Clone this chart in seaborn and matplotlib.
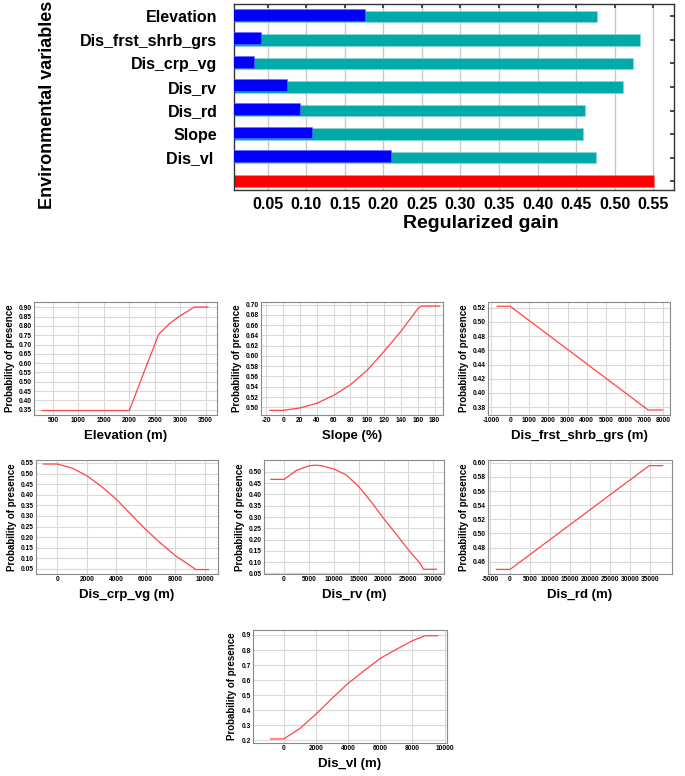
import numpy as np
import pandas as pd
import matplotlib
matplotlib.use("Agg")
import matplotlib.pyplot as plt
import seaborn as sns
from matplotlib.ticker import FormatStrFormatter

# ---------------- data ----------------
variables = ['Elevation', 'Dis_frst_shrb_grs', 'Dis_crp_vg', 'Dis_rv', 'Dis_rd', 'Slope', 'Dis_vl']
var_labels = ['Elevation', 'Dis_frst_shrb_grs', 'Dis_crp_vg', 'Dis_rv', 'Dis_rd', 'Slope', 'Dis_vl ', '']
gain_without = [0.477, 0.533, 0.524, 0.511, 0.462, 0.459, 0.476]
gain_only = [0.176, 0.041, 0.032, 0.075, 0.092, 0.107, 0.210]
gain_all = 0.551
gain_ticks = [0.05, 0.10, 0.15, 0.20, 0.25, 0.30, 0.35, 0.40, 0.45, 0.50, 0.55]

elev_x = [283, 2000, 2300, 2577, 2786, 2983, 3150, 3278, 3547]
elev_y = [0.345, 0.345, 0.560, 0.755, 0.812, 0.852, 0.880, 0.902, 0.902]
elev_ticks_x = [500, 1000, 1500, 2000, 2500, 3000, 3500]
elev_ticks_y = [0.35, 0.40, 0.45, 0.50, 0.55, 0.60, 0.65, 0.70, 0.75, 0.80, 0.85, 0.90]

slope_x = [-16, 0, 20, 40, 60, 80, 100, 120, 140, 160, 164, 186]
slope_y = [0.494, 0.494, 0.4987, 0.5078, 0.5233, 0.544, 0.5725, 0.609, 0.648, 0.692, 0.697, 0.697]
slope_ticks_x = [-20, 0, 20, 40, 60, 80, 100, 120, 140, 160, 180]
slope_ticks_y = [0.50, 0.52, 0.54, 0.56, 0.58, 0.60, 0.62, 0.64, 0.66, 0.68, 0.70]

frst_x = [-687, 0, 7209, 7957]
frst_y = [0.522, 0.522, 0.376, 0.376]
frst_ticks_x = [-1000, 0, 1000, 2000, 3000, 4000, 5000, 6000, 7000, 8000]
frst_ticks_y = [0.38, 0.40, 0.42, 0.44, 0.46, 0.48, 0.50, 0.52]

crp_x = [-948, 0, 1000, 2000, 3000, 4000, 5000, 6000, 7000, 8000, 9000, 9400, 10270]
crp_y = [0.545, 0.545, 0.526, 0.490, 0.439, 0.379, 0.307, 0.236, 0.172, 0.113, 0.066, 0.047, 0.047]
crp_ticks_x = [0, 2000, 4000, 6000, 8000, 10000]
crp_ticks_y = [0.05, 0.10, 0.15, 0.20, 0.25, 0.30, 0.35, 0.40, 0.45, 0.50, 0.55]

rv_x = [-2685, 0, 2500, 5000, 6200, 7500, 10000, 12500, 15000, 17500, 20000, 22500, 25000, 27500, 28000, 30670]
rv_y = [0.467, 0.467, 0.507, 0.527, 0.530, 0.528, 0.513, 0.487, 0.435, 0.368, 0.294, 0.225, 0.154, 0.090, 0.068, 0.068]
rv_ticks_x = [0, 5000, 10000, 15000, 20000, 25000, 30000]
rv_ticks_y = [0.05, 0.10, 0.15, 0.20, 0.25, 0.30, 0.35, 0.40, 0.45, 0.50]

rd_x = [-3422, 0, 34725, 38150]
rd_y = [0.449, 0.449, 0.596, 0.596]
rd_ticks_x = [-5000, 0, 5000, 10000, 15000, 20000, 25000, 30000, 35000]
rd_ticks_y = [0.46, 0.48, 0.50, 0.52, 0.54, 0.56, 0.58, 0.60]

vl_x = [-829, 0, 1000, 2000, 3000, 4000, 5000, 6000, 7000, 8000, 8800, 9600]
vl_y = [0.209, 0.209, 0.278, 0.373, 0.478, 0.578, 0.662, 0.744, 0.804, 0.862, 0.895, 0.895]
vl_ticks_x = [0, 2000, 4000, 6000, 8000, 10000]
vl_ticks_y = [0.2, 0.3, 0.4, 0.5, 0.6, 0.7, 0.8, 0.9]

# ---------------- style ----------------
sns.set_theme(style="white")
plt.rcParams['font.family'] = ['Liberation Sans', 'DejaVu Sans']
plt.rcParams['font.weight'] = 'bold'
plt.rcParams['text.color'] = 'black'
plt.rcParams['axes.labelcolor'] = 'black'
plt.rcParams['xtick.color'] = 'black'
plt.rcParams['ytick.color'] = 'black'

W, H = 685, 776
fig = plt.figure(figsize=(W / 100, H / 100), dpi=100)


def px_axes(x0, x1, y0, y1):
    return fig.add_axes([x0 / W, 1 - y1 / H, (x1 - x0) / W, (y1 - y0) / H])


TEAL = '#00AAA8'
BLUE = '#0000FF'
RED = '#FF0000'

# ---------------- jackknife bar chart ----------------
ax = px_axes(234, 674, 4, 190)
cats = variables + ['All']
df_w = pd.DataFrame({'var': cats, 'gain': gain_without + [gain_all],
                     'kind': ['without'] * 7 + ['all']})
df_o = pd.DataFrame({'var': variables, 'gain': gain_only})
sns.barplot(data=df_w, x='gain', y='var', order=cats, hue='kind',
            palette={'without': TEAL, 'all': RED}, legend=False, saturation=1,
            width=0.48, edgecolor='#8fd8d6', linewidth=0.4, ax=ax, zorder=2)
n_first = len(ax.patches)
sns.barplot(data=df_o, x='gain', y='var', order=cats, color=BLUE, saturation=1,
            width=0.5, edgecolor='#6a6aff', linewidth=0.4, ax=ax, zorder=3)
for p in ax.patches[n_first:]:
    p.set_y(p.get_y() - 0.07)
for p in ax.patches[:n_first]:
    if p.get_facecolor()[0] > 0.9:
        p.set_edgecolor('#ff8080')
ax.set_xlim(0.0062, 0.577)
ax.set_ylim(7.38, -0.53)
ax.set_xticks(gain_ticks)
ax.set_xticklabels([f'{t:.2f}' for t in gain_ticks], fontsize=11.5, fontweight='bold')
ax.set_yticks(range(len(cats)))
ax.set_yticklabels(var_labels, fontsize=11.5, fontweight='bold')
ax.tick_params(axis='y', left=False, right=True, direction='in', length=3, pad=12,
               color='#333333')
ax.tick_params(axis='x', bottom=False, top=True, direction='in', length=3, pad=5,
               color='#333333')
ax.grid(axis='x', color='#c8c8c8', linewidth=1.0, zorder=0)
ax.set_axisbelow(True)
for s in ax.spines.values():
    s.set_color('#333333')
    s.set_linewidth(1.0)
ax.set_xlabel('Regularized gain', fontsize=14, fontweight='bold')
ax.set_ylabel('Environmental variables', fontsize=13, fontweight='bold')
ax.xaxis.set_label_coords(0.56, -0.135)
ax.yaxis.set_label_coords(-0.405, 0.46)

# ---------------- response curves ----------------
panels = [
    ((34, 217, 302, 415), elev_x, elev_y, 'Elevation (m)', (127, 3723), (0.321, 0.929), elev_ticks_x, elev_ticks_y, '%.2f'),
    ((261, 443, 302, 415), slope_x, slope_y, 'Slope (%)', (-26.3, 189.9), (0.485, 0.705), slope_ticks_x, slope_ticks_y, '%.2f'),
    ((488, 670, 302, 415), frst_x, frst_y, 'Dis_frst_shrb_grs (m)', (-1157, 8348), (0.369, 0.528), frst_ticks_x, frst_ticks_y, '%.2f'),
    ((36, 218, 460, 574), crp_x, crp_y, 'Dis_crp_vg (m)', (-1445, 10903), (0.026, 0.564), crp_ticks_x, crp_ticks_y, '%.2f'),
    ((264, 444, 460, 574), rv_x, rv_y, 'Dis_rv (m)', (-4027, 32148), (0.047, 0.553), rv_ticks_x, rv_ticks_y, '%.2f'),
    ((488, 672, 460, 574), rd_x, rd_y, 'Dis_rd (m)', (-5509, 40426), (0.4425, 0.604), rd_ticks_x, rd_ticks_y, '%.2f'),
    ((253, 447, 630, 743), vl_x, vl_y, 'Dis_vl (m)', (-1907, 10155), (0.182, 0.933), vl_ticks_x, vl_ticks_y, '%.1f'),
]

for (x0, x1, y0, y1), xs, ys, xlabel, xlim, ylim, tx, ty, fmt in panels:
    a = px_axes(x0, x1, y0, y1)
    d = pd.DataFrame({'x': xs, 'y': ys})
    sns.lineplot(data=d, x='x', y='y', color='#ff4545', linewidth=0.9, ax=a,
                 sort=False, zorder=3)
    a.set_xlim(*xlim)
    a.set_ylim(*ylim)
    a.set_xticks(tx)
    a.set_yticks(ty)
    a.yaxis.set_major_formatter(FormatStrFormatter(fmt))
    a.xaxis.set_major_formatter(FormatStrFormatter('%d'))
    for lab in a.get_xticklabels() + a.get_yticklabels():
        lab.set_fontsize(4.8)
        lab.set_fontweight('bold')
    a.tick_params(length=0, pad=1.5)
    a.grid(True, color='#d9d9d9', linewidth=0.8)
    a.set_axisbelow(True)
    for s in a.spines.values():
        s.set_color('#8a8a8a')
        s.set_linewidth(0.8)
    a.set_xlabel(xlabel, fontsize=9.5, fontweight='bold', labelpad=4)
    a.set_ylabel('Probability of presence', fontsize=7, fontweight='bold', labelpad=3)

fig.savefig('out.png', dpi=100)
